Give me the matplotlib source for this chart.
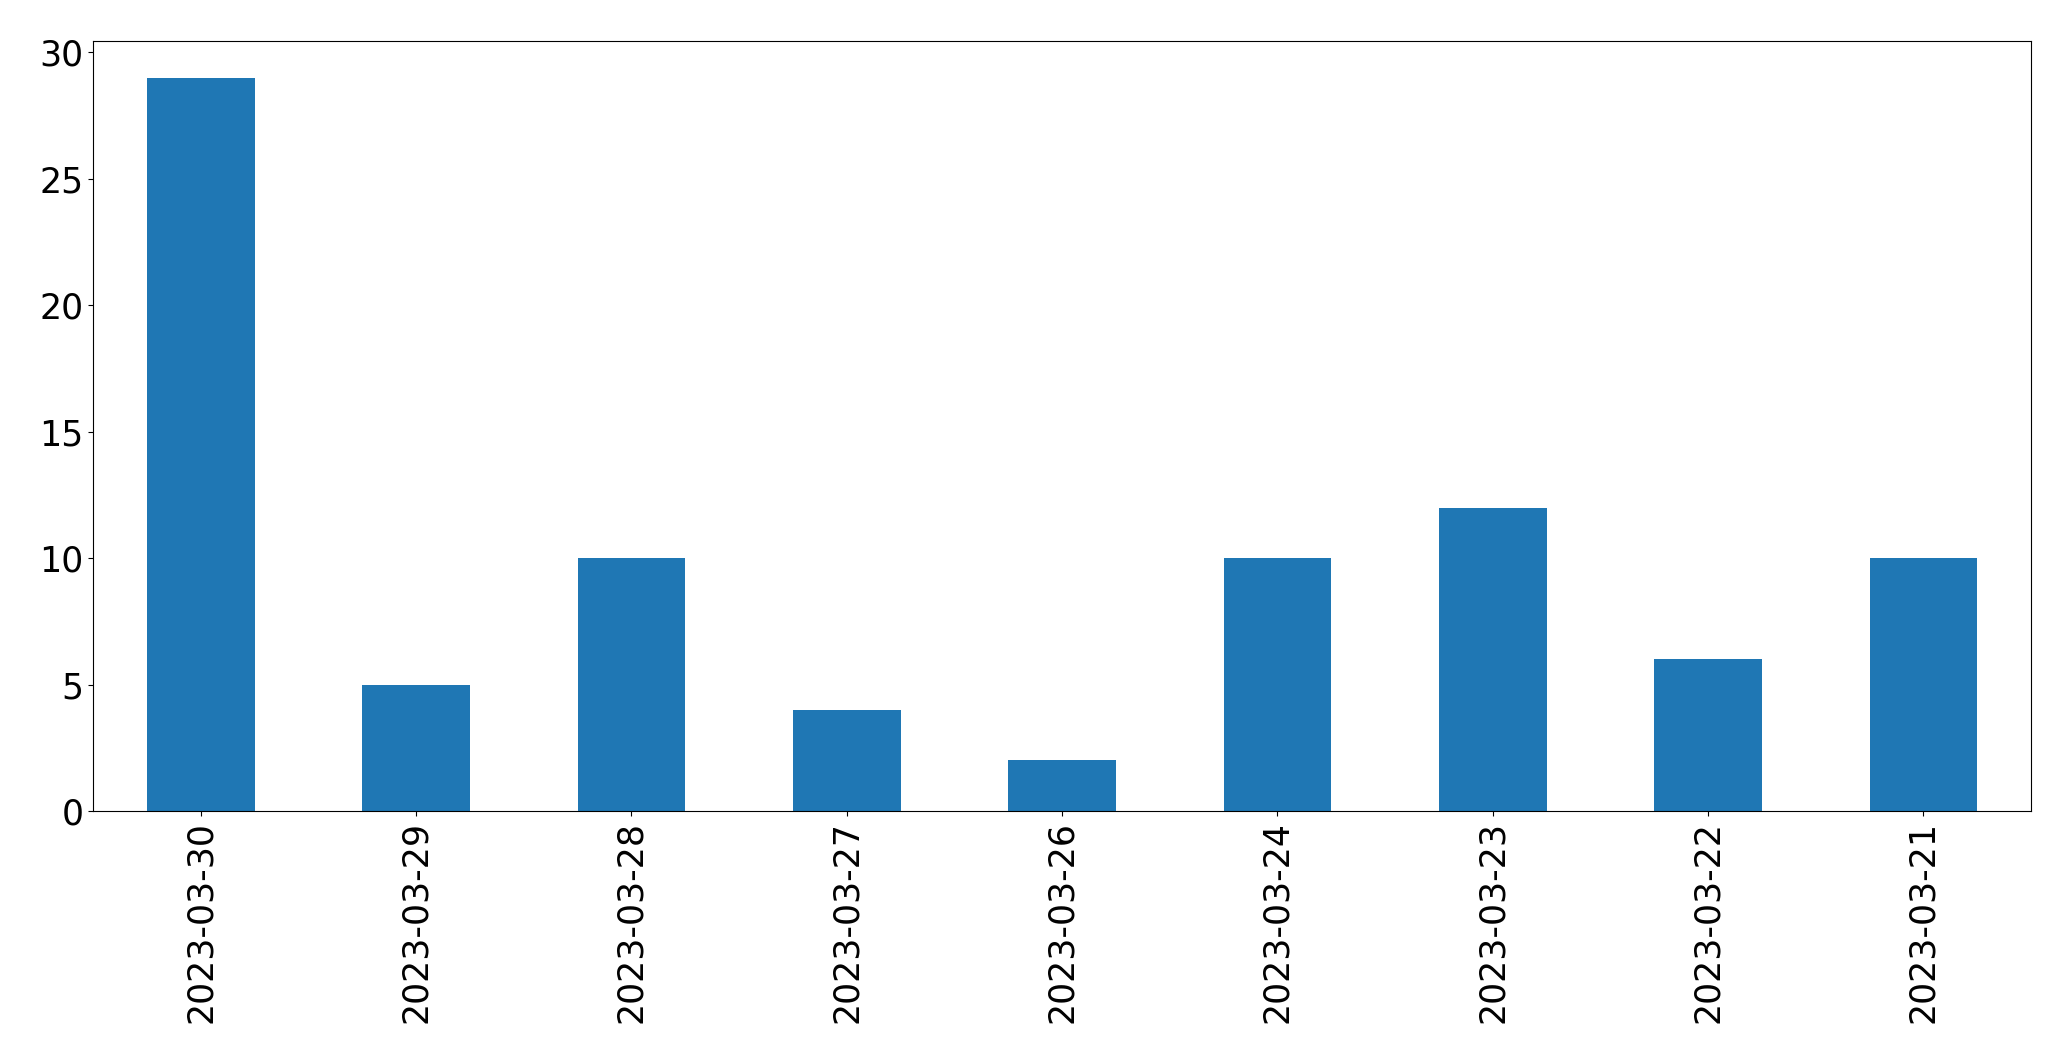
import matplotlib
matplotlib.use("Agg")
import matplotlib.pyplot as plt
import numpy as np

datum = ["2023-03-30", "2023-03-29", "2023-03-28", "2023-03-27", "2023-03-26",
         "2023-03-24", "2023-03-23", "2023-03-22", "2023-03-21"]
anzahl = [29, 5, 10, 4, 2, 10, 12, 6, 10]

fig = plt.figure(figsize=(20.71, 10.63), dpi=100)
ax = fig.add_axes([93 / 2071, 1 - 811 / 1063, (2031 - 93) / 2071, (811 - 41) / 1063])
x = np.arange(len(datum))
ax.bar(x, anzahl, width=0.5, color="#1f77b4")
ax.set_xlim(-0.5, len(datum) - 0.5)
ax.set_xticks(x)
ax.set_xticklabels(datum, rotation=90)
ax.tick_params(labelsize=25)
fig.savefig("out.png", dpi=100)
